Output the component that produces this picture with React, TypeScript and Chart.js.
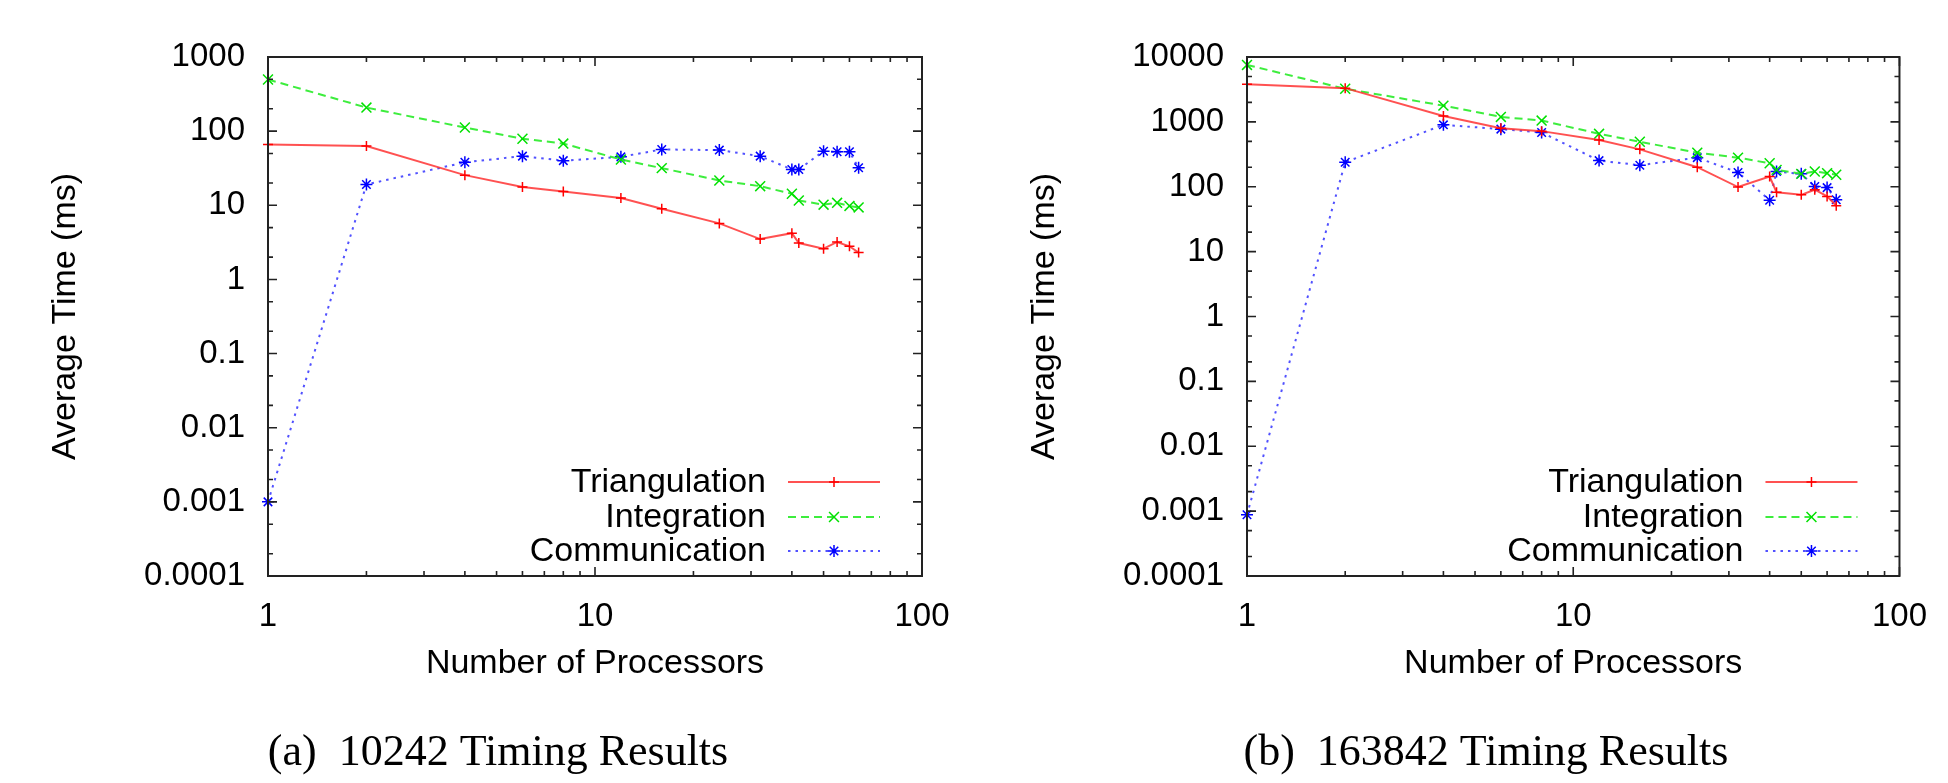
import React, { useEffect, useRef } from 'react';
import { Chart, registerables } from 'chart.js';

Chart.register(...registerables);

// ---------- data ----------
const processors = [1, 2, 4, 6, 8, 12, 16, 24, 32, 40, 42, 50, 55, 60, 64];

const triangulationA = [66, 63, 25.5, 17.6, 15.4, 12.5, 9.0, 5.7, 3.5, 4.2, 3.1, 2.6, 3.2, 2.8, 2.3];
const integrationA = [497, 208, 112, 79, 68, 41.5, 31.7, 21.6, 18.1, 14.3, 11.6, 10.2, 10.8, 9.8, 9.35];
const communicationA = [0.001, 19.1, 38, 46, 40, 45, 56.6, 55.5, 46, 30.4, 30.4, 53.7, 52.6, 52.6, 32];

const triangulationB = [3815, 3310, 1235, 800, 720, 524, 377, 200, 99, 144, 82, 75, 90, 71, 51];
const integrationB = [7550, 3240, 1780, 1193, 1048, 655, 494, 335, 281, 230, 182, 158, 172, 162, 153];
const communicationB = [0.00088, 239, 900, 773, 687, 253, 215, 281, 166, 62, 172, 158, 101, 97, 63];

const seriesNames = ['Triangulation', 'Integration', 'Communication'];

const xTickValues = [1, 10, 100];
const xTickLabels = ['1', '10', '100'];

const yTickValuesA = [0.0001, 0.001, 0.01, 0.1, 1, 10, 100, 1000];
const yTickLabelsA = ['0.0001', '0.001', '0.01', '0.1', '1', '10', '100', '1000'];
const yTickValuesB = [0.0001, 0.001, 0.01, 0.1, 1, 10, 100, 1000, 10000];
const yTickLabelsB = ['0.0001', '0.001', '0.01', '0.1', '1', '10', '100', '1000', '10000'];

const xTitle = 'Number of Processors';
const yTitle = 'Average Time (ms)';
const captionA = '(a)  10242 Timing Results';
const captionB = '(b)  163842 Timing Results';

// ---------- styles ----------
const SANS = '"Liberation Sans", Arial, sans-serif';
const SERIF = '"Liberation Serif", "DejaVu Serif", serif';

const seriesStyles = [
  { line: 'rgba(255,50,50,0.85)', point: '#ff0000', dash: [] as number[], pointStyle: 'cross', radius: 5 },
  { line: 'rgba(40,235,40,0.9)', point: '#00e000', dash: [8, 5], pointStyle: 'crossRot', radius: 7 },
  { line: 'rgba(50,50,255,0.85)', point: '#0000ff', dash: [2.5, 5], pointStyle: 'star', radius: 6 },
];

function drawMarker(ctx: CanvasRenderingContext2D, style: string, x: number, y: number, r: number) {
  ctx.beginPath();
  if (style === 'cross' || style === 'star') {
    ctx.moveTo(x - r, y); ctx.lineTo(x + r, y);
    ctx.moveTo(x, y - r); ctx.lineTo(x, y + r);
  }
  if (style === 'crossRot' || style === 'star') {
    const d = r * 0.7071;
    ctx.moveTo(x - d, y - d); ctx.lineTo(x + d, y + d);
    ctx.moveTo(x - d, y + d); ctx.lineTo(x + d, y - d);
  }
  ctx.stroke();
}

const framePlugin = {
  id: 'gnuplotFrame',
  afterDraw(chart: any) {
    const ctx = chart.ctx as CanvasRenderingContext2D;
    const { left, right, top, bottom } = chart.chartArea;
    const xs = chart.scales.x;
    const ys = chart.scales.y;
    ctx.save();
    ctx.strokeStyle = '#222';
    ctx.lineWidth = 1.6;
    const major = 9;
    const minor = 5;
    // x ticks
    for (let e = 0; e <= 2; e++) {
      for (let m = 1; m <= 9; m++) {
        const v = m * Math.pow(10, e);
        if (v < 1 || v > 100) continue;
        const px = xs.getPixelForValue(v);
        const len = m === 1 ? major : minor;
        ctx.beginPath();
        ctx.moveTo(px, bottom); ctx.lineTo(px, bottom - len);
        ctx.moveTo(px, top); ctx.lineTo(px, top + len);
        ctx.stroke();
      }
    }
    // y ticks
    const yMin = ys.min, yMax = ys.max;
    for (let e = -4; e <= 4; e++) {
      for (const m of [1, 2, 5]) {
        const v = m * Math.pow(10, e);
        if (v < yMin * 0.999 || v > yMax * 1.001) continue;
        const py = ys.getPixelForValue(v);
        const len = m === 1 ? major : minor;
        ctx.beginPath();
        ctx.moveTo(left, py); ctx.lineTo(left + len, py);
        ctx.moveTo(right, py); ctx.lineTo(right - len, py);
        ctx.stroke();
      }
    }
    // box
    ctx.lineWidth = 2;
    ctx.strokeRect(left, top, right - left, bottom - top);

    // legend
    ctx.font = `34px ${SANS}`;
    ctx.fillStyle = '#000';
    ctx.textAlign = 'right';
    ctx.textBaseline = 'middle';
    const rowsFromBottom = [94, 59, 25];
    chart.data.datasets.forEach((ds: any, i: number) => {
      const st = seriesStyles[i];
      const y = bottom - rowsFromBottom[i];
      ctx.fillText(ds.label, right - 156, y + 1);
      ctx.strokeStyle = st.line;
      ctx.lineWidth = 2;
      ctx.setLineDash(st.dash);
      ctx.beginPath();
      ctx.moveTo(right - 134, y); ctx.lineTo(right - 42, y);
      ctx.stroke();
      ctx.setLineDash([]);
      ctx.strokeStyle = st.point;
      ctx.lineWidth = 1.5;
      drawMarker(ctx, st.pointStyle, right - 88, y, st.radius);
    });

    // titles and caption
    const opts = chart.options.plugins.gnuplotFrame || {};
    ctx.fillStyle = '#000';
    ctx.textAlign = 'center';
    ctx.textBaseline = 'middle';
    ctx.font = `34px ${SANS}`;
    ctx.fillText(xTitle, (left + right) / 2, 664);
    ctx.save();
    ctx.translate(left - 202, (top + bottom) / 2);
    ctx.rotate(-Math.PI / 2);
    ctx.fillText(yTitle, 0, 0);
    ctx.restore();
    ctx.font = `44px ${SERIF}`;
    ctx.fillText(opts.caption || '', left + (opts.captionOffset || 230), 753);
    ctx.restore();
  },
};

type PanelProps = {
  ys: number[][];
  yTickValues: number[];
  yTickLabels: string[];
  caption: string;
  chartLeft: number;
  padRight: number;
  captionOffset: number;
  offsetX: number;
};

function Panel({ ys, yTickValues, yTickLabels, caption, chartLeft, padRight, captionOffset, offsetX }: PanelProps) {
  const ref = useRef<HTMLCanvasElement | null>(null);
  useEffect(() => {
    if (!ref.current) return;
    const datasets = ys.map((vals, i) => {
      const st = seriesStyles[i];
      return {
        label: seriesNames[i],
        data: processors.map((p, j) => ({ x: p, y: vals[j] })),
        borderColor: st.line,
        borderWidth: 2,
        borderDash: st.dash,
        pointStyle: st.pointStyle,
        pointRadius: st.radius,
        pointBorderColor: st.point,
        pointBorderWidth: 1.5,
        pointBackgroundColor: st.point,
        fill: false,
        tension: 0,
        clip: false,
      };
    });
    const chart = new Chart(ref.current, {
      type: 'line',
      data: { datasets } as any,
      options: {
        animation: false,
        responsive: false,
        devicePixelRatio: 1,
        layout: { padding: { left: 0, top: 57, right: padRight, bottom: 0 } },
        plugins: {
          legend: { display: false },
          tooltip: { enabled: false },
          gnuplotFrame: { caption, captionOffset },
        } as any,
        scales: {
          x: {
            type: 'logarithmic',
            min: 1,
            max: 100,
            grid: { display: false, drawTicks: false },
            border: { display: false },
            afterBuildTicks: (scale: any) => {
              scale.ticks = xTickValues.map((v) => ({ value: v }));
            },
            afterFit: (scale: any) => {
              scale.height = 207;
            },
            ticks: {
              autoSkip: false,
              maxRotation: 0,
              padding: 21,
              color: '#000',
              font: { family: SANS, size: 33 },
              callback: (_v: any, i: number) => xTickLabels[i],
            },
          },
          y: {
            type: 'logarithmic',
            min: yTickValues[0],
            max: yTickValues[yTickValues.length - 1],
            grid: { display: false, drawTicks: false },
            border: { display: false },
            afterBuildTicks: (scale: any) => {
              scale.ticks = yTickValues.map((v) => ({ value: v }));
            },
            afterFit: (scale: any) => {
              scale.width = chartLeft;
            },
            ticks: {
              autoSkip: false,
              padding: 23,
              color: '#000',
              font: { family: SANS, size: 33 },
              callback: (_v: any, i: number) => yTickLabels[i],
            },
          },
        } as any,
      },
      plugins: [framePlugin],
    });
    return () => chart.destroy();
  }, []);
  return (
    <canvas
      ref={ref}
      width={974}
      height={783}
      style={{ position: 'absolute', left: offsetX, top: 0, width: 974, height: 783 }}
    />
  );
}

export default function App() {
  return (
    <div style={{ position: 'absolute', left: 0, top: 0, width: 1948, height: 783, background: '#fff', overflow: 'hidden' }}>
      <Panel
        ys={[triangulationA, integrationA, communicationA]}
        yTickValues={yTickValuesA}
        yTickLabels={yTickLabelsA}
        caption={captionA}
        chartLeft={268}
        padRight={52}
        captionOffset={230}
        offsetX={0}
      />
      <Panel
        ys={[triangulationB, integrationB, communicationB]}
        yTickValues={yTickValuesB}
        yTickLabels={yTickLabelsB}
        caption={captionB}
        chartLeft={273}
        padRight={45}
        captionOffset={239}
        offsetX={974}
      />
    </div>
  );
}
